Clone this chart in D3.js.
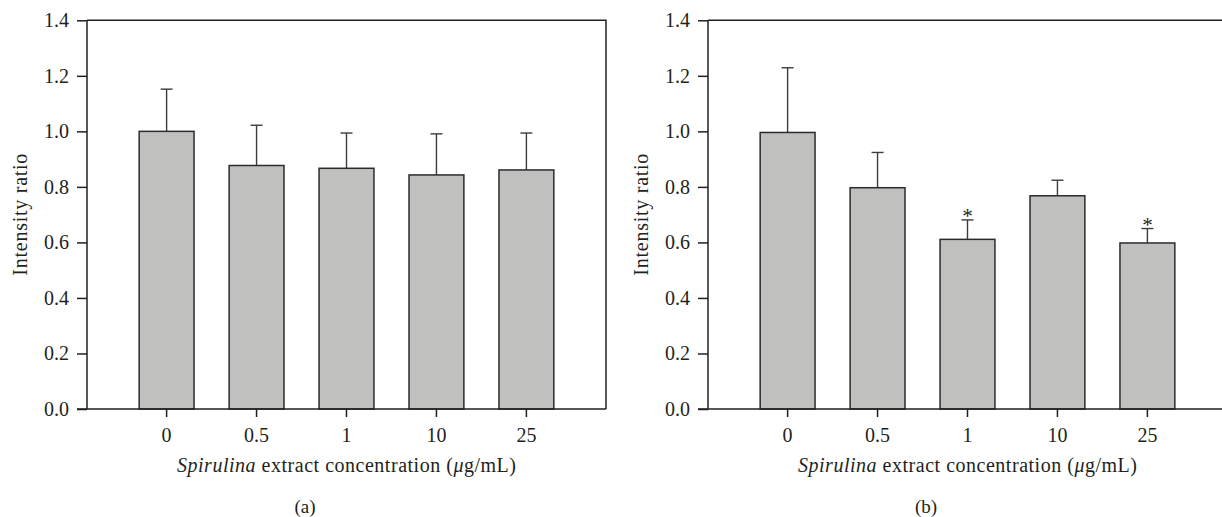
<!DOCTYPE html>
<html>
<head>
<meta charset="utf-8">
<script src="https://cdn.jsdelivr.net/npm/d3@7"></script>
<style>
  body { margin: 0; background: #fff; }
  text { font-family: "Liberation Serif", "Times New Roman", serif; fill: #231f20; }
</style>
</head>
<body>
<div id="chart-area"></div>
<script>
// data
var concentrations = ["0", "0.5", "1", "10", "25"];
var ratioA = [1.0, 0.877, 0.867, 0.843, 0.861];
var sdA = [0.152, 0.145, 0.127, 0.148, 0.133];
var ratioB = [0.996, 0.797, 0.611, 0.768, 0.598];
var sdB = [0.233, 0.127, 0.070, 0.056, 0.052];
var starB = [false, false, true, false, true];
var yTicks = [0, 0.2, 0.4, 0.6, 0.8, 1.0, 1.2, 1.4];
var panelLabels = ["(a)", "(b)"];

var W = 1222, H = 517;
var width = 519;
var yTop = 20.3, yBottom = 409;

var svg = d3.select("#chart-area").append("svg")
    .attr("width", W)
    .attr("height", H);

var y = d3.scaleLinear()
    .domain([0, 1.4])
    .range([yBottom, yTop]);

function panel(left, ratios, sds, stars, label, labelX) {
  var g = svg.append("g")
      .attr("transform", "translate(" + left + ",0)");

  var x = d3.scaleBand()
      .domain(concentrations)
      .range([0, width])
      .paddingInner(0.39)
      .paddingOuter(0.58);

  var rows = concentrations.map(function(c, i) {
    return {c: c, v: ratios[i], sd: sds[i], star: stars ? stars[i] : false};
  });

  // frame (top + right)
  g.append("path")
      .attr("d", "M0," + yTop + "H" + width + "V" + yBottom)
      .attr("fill", "none")
      .attr("stroke", "#231f20")
      .attr("stroke-width", 1.5);

  // error bars (upper only)
  var err = g.selectAll(".err").data(rows).enter().append("g")
      .attr("class", "err")
      .attr("stroke", "#3c3c3c")
      .attr("stroke-width", 1.4);
  err.append("line")
      .attr("x1", function(d) { return x(d.c) + x.bandwidth() / 2; })
      .attr("x2", function(d) { return x(d.c) + x.bandwidth() / 2; })
      .attr("y1", function(d) { return y(d.v); })
      .attr("y2", function(d) { return y(d.v + d.sd); });
  err.append("line")
      .attr("x1", function(d) { return x(d.c) + x.bandwidth() / 2 - 6; })
      .attr("x2", function(d) { return x(d.c) + x.bandwidth() / 2 + 6; })
      .attr("y1", function(d) { return y(d.v + d.sd); })
      .attr("y2", function(d) { return y(d.v + d.sd); });

  g.selectAll(".bar").data(rows).enter().append("rect")
      .attr("class", "bar")
      .attr("x", function(d) { return x(d.c); })
      .attr("width", x.bandwidth())
      .attr("y", function(d) { return y(d.v); })
      .attr("height", function(d) { return yBottom - y(d.v); })
      .attr("fill", "#c0c0bf")
      .attr("stroke", "#2b2b2b")
      .attr("stroke-width", 1.5);

  g.selectAll(".star").data(rows.filter(function(d) { return d.star; })).enter().append("text")
      .attr("class", "star")
      .attr("x", function(d) { return x(d.c) + x.bandwidth() / 2; })
      .attr("y", function(d) { return y(d.v + d.sd) + 3; })
      .attr("text-anchor", "middle")
      .attr("font-size", "21px")
      .text("*");

  // axes
  var leftAxis = d3.axisLeft(y)
      .tickValues(yTicks)
      .tickSize(10)
      .tickPadding(8)
      .tickFormat(d3.format(".1f"));
  var ya = g.append("g").call(leftAxis);
  ya.select(".domain").attr("d", "M0," + yTop + "V" + yBottom);

  var bottomAxis = d3.axisBottom(x)
      .tickSize(8)
      .tickPadding(11);
  var xa = g.append("g")
      .attr("transform", "translate(0," + yBottom + ")")
      .call(bottomAxis);
  xa.select(".domain").attr("d", "M-10,0H" + width);

  g.selectAll(".domain, .tick line")
      .attr("stroke", "#231f20")
      .attr("stroke-width", 1.5);
  g.selectAll(".tick text")
      .attr("font-family", null)
      .attr("font-size", "20px")
      .attr("fill", "#231f20");

  // axis titles
  g.append("text")
      .attr("transform", "translate(-60," + ((yTop + yBottom) / 2) + ") rotate(-90)")
      .attr("text-anchor", "middle")
      .attr("font-size", "20px")
      .attr("textLength", 122)
      .attr("lengthAdjust", "spacing")
      .text("Intensity ratio");

  var xt = g.append("text")
      .attr("x", x("1") + x.bandwidth() / 2)
      .attr("y", 472)
      .attr("text-anchor", "middle")
      .attr("font-size", "20px")
      .attr("textLength", 339)
      .attr("lengthAdjust", "spacing");
  xt.append("tspan").attr("font-style", "italic").text("Spirulina");
  xt.append("tspan").text(" extract concentration (");
  xt.append("tspan").attr("font-style", "italic").text("\u03bc");
  xt.append("tspan").text("g/mL)");

  svg.append("text")
      .attr("x", labelX)
      .attr("y", 513)
      .attr("text-anchor", "middle")
      .attr("font-size", "19px")
      .text(label);
}

panel(87, ratioA, sdA, null, panelLabels[0], 305);
panel(708, ratioB, sdB, starB, panelLabels[1], 926);
</script>
</body>
</html>
